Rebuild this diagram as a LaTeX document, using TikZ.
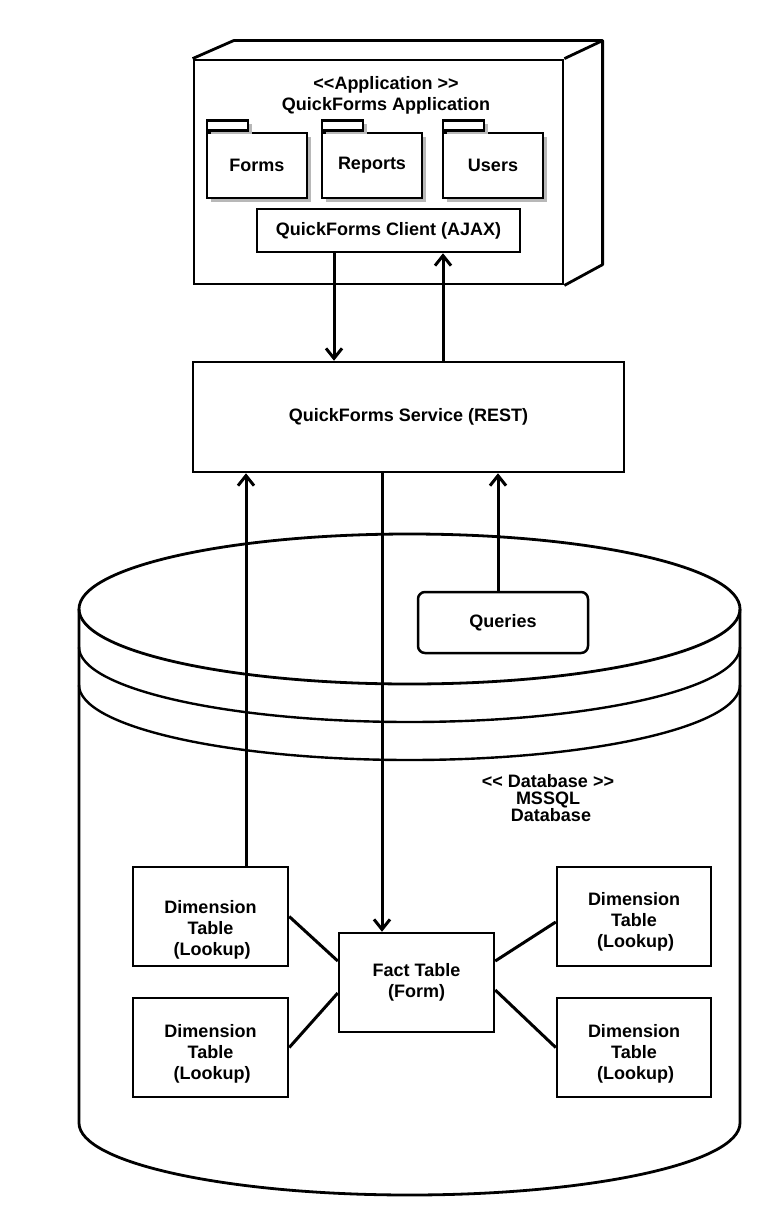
\documentclass[tikz,border=0pt]{standalone}
\usepackage{fontspec}
\setmainfont{Liberation Sans}
\usetikzlibrary{arrows.meta,calc,shadows}
\begin{document}
\begin{tikzpicture}[x=1pt,y=-1pt,
  font=\fontsize{18}{21}\selectfont\bfseries,
  box/.style={draw, line width=2.5pt, inner sep=0pt, fill=white, align=center},
  fold/.style={box, drop shadow={shadow xshift=4pt, shadow yshift=-4pt, fill=black!28, opacity=1}},
  arr/.style={line width=3pt, -{Straight Barb[length=10pt,width=16pt]}},
  link/.style={line width=3pt},
  txt/.style={align=center, inner sep=0pt}]
\useasboundingbox (0,0) rectangle (759,1212);
\fill[white] (0,0) rectangle (759,1212);

% ---------- database cylinder ----------
\draw[line width=2.8pt, fill=white] (79,609) -- (79,1123)
  arc[start angle=180, end angle=0, x radius=330.5, y radius=72] -- (740,609);
\draw[line width=2.8pt] (409.5,609) ellipse [x radius=330.5, y radius=75];
\draw[line width=2.4pt] (79,647) arc[start angle=180, end angle=0, x radius=330.5, y radius=75];
\draw[line width=2.4pt] (79,685) arc[start angle=180, end angle=0, x radius=330.5, y radius=75];
\node[txt, font=\fontsize{18}{17}\selectfont\bfseries] (dblabel) at (548,798)
  {<\kern0pt< Database >\kern0pt>\\MSSQL\\\hspace{6pt}Database};

% ---------- application node (3D box) ----------
\node[box, line width=2.8pt, minimum width=369, minimum height=224] (app) at (378.5,172) {};
\draw[line width=2.8pt, line join=round] (app.north west) -- ++(41,-18) -- ++(369,0) coordinate (apptr) -- (app.north east);
\draw[line width=2.8pt, line join=round] (apptr) -- ++(0,224) -- (app.south east);
\node[txt] (apptitle) at (386,95) {<\kern0pt<Application >\kern0pt>\\QuickForms Application};

% folders
\node[fold, minimum width=100, minimum height=65] (forms) at (257,165.5) {Forms};
\node[fold, minimum width=41, minimum height=10, anchor=south west] (formstab) at (forms.north west) {};
\node[fold, minimum width=100, minimum height=65] (reports) at (372,165.5) {Reports};
\node[fold, minimum width=41, minimum height=10, anchor=south west] (reportstab) at (reports.north west) {};
\node[fold, minimum width=100, minimum height=65] (users) at (493,165.5) {Users};
\node[fold, minimum width=41, minimum height=10, anchor=south west] (userstab) at (users.north west) {};

\node[box, minimum width=263, minimum height=43] (client) at (388.5,230.5) {QuickForms Client (AJAX)};

% ---------- service ----------
\node[box, minimum width=431, minimum height=110] (service) at (408.5,417) {QuickForms Service (REST)};

% ---------- database content ----------
\node[box, rounded corners=7pt, minimum width=170, minimum height=61] (queries) at (503,622.5) {Queries};

\node[box, minimum width=155, minimum height=99] (dimlt) at (210.5,916.5) {};
\node[box, minimum width=155, minimum height=99] (dimlb) at (210.5,1047.5) {};
\node[box, minimum width=154, minimum height=99] (dimrt) at (634,916.5) {};
\node[box, minimum width=154, minimum height=99] (dimrb) at (634,1047.5) {};
\node[txt] (dimltt) at (210.5,930) {Dimension\\Table\\\hspace{3pt}(Lookup)};
\node[txt] (dimlbt) at (210.5,1054) {Dimension\\Table\\\hspace{3pt}(Lookup)};
\node[txt] (dimrtt) at (634,922) {Dimension\\Table\\\hspace{3pt}(Lookup)};
\node[txt] (dimrbt) at (634,1054) {Dimension\\Table\\\hspace{3pt}(Lookup)};
\node[box, minimum width=155, minimum height=99] (fact) at (416.5,982.5) {Fact Table\\(Form)};

% ---------- connectors ----------
\coordinate (xa) at (334,0);
\coordinate (xb) at (443,0);
\coordinate (xc) at (246,0);
\coordinate (xd) at (382,0);
\coordinate (xe) at (498,0);
\draw[arr] (client.south -| xa) -- (service.north -| xa);
\draw[arr] (service.north -| xb) -- (client.south -| xb);
\draw[arr] (dimlt.north -| xc) -- (service.south -| xc);
\draw[arr] (service.south -| xd) -- (fact.north -| xd);
\draw[arr] (queries.north -| xe) -- (service.south -| xe);

\draw[link] (dimlt.east) -- ($(fact.west)+(0,-21.5)$);
\draw[link] (dimlb.east) -- ($(fact.west)+(0,10.5)$);
\draw[link] ($(fact.east)+(0,-21.5)$) -- ($(dimrt.west)+(0,5.5)$);
\draw[link] ($(fact.east)+(0,7.5)$) -- (dimrb.west);
\end{tikzpicture}
\end{document}
